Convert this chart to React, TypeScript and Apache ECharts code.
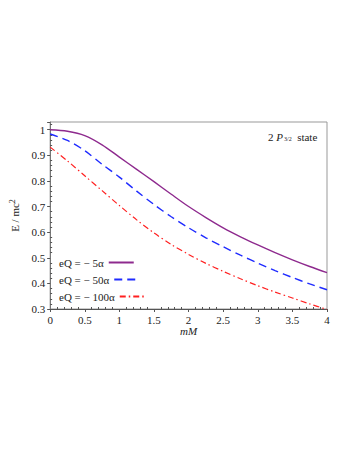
import React, { useEffect, useRef } from "react";
import * as echarts from "echarts";

const xs = [0, 0.25, 0.5, 0.75, 1, 1.25, 1.5, 1.75, 2, 2.25, 2.5, 2.75, 3, 3.25, 3.5, 3.75, 4];
const q5 = [1.0, 0.994, 0.977, 0.941, 0.893, 0.845, 0.797, 0.748, 0.7, 0.657, 0.617, 0.582, 0.55, 0.52, 0.492, 0.466, 0.442];
const q50 = [0.983, 0.958, 0.918, 0.865, 0.815, 0.76, 0.708, 0.66, 0.617, 0.578, 0.543, 0.51, 0.479, 0.45, 0.423, 0.398, 0.375];
const q100 = [0.932, 0.878, 0.82, 0.762, 0.704, 0.648, 0.597, 0.552, 0.513, 0.478, 0.447, 0.418, 0.391, 0.366, 0.343, 0.32, 0.298];
const seriesNames = ["eQ = \u2212 5\u03b1", "eQ = \u2212 50\u03b1", "eQ = \u2212 100\u03b1"];
const xTicks = [0, 0.5, 1, 1.5, 2, 2.5, 3, 3.5, 4];
const yTicks = [0.3, 0.4, 0.5, 0.6, 0.7, 0.8, 0.9, 1];

const FONT = "Liberation Serif";

export default function App() {
  const ref = useRef<HTMLDivElement>(null);
  useEffect(() => {
    if (!ref.current) return;
    const chart = echarts.init(ref.current, undefined, { renderer: "svg" });
    const pair = (ys: number[]) => xs.map((x, i) => [x, ys[i]]);
    const grid = { left: 48, right: 26, top: 122, bottom: 148 };
    const legendBase = (name: string, top: number) => ({
      data: [name],
      left: 54,
      top,
      align: "right",
      itemWidth: 25,
      itemHeight: 8,
      itemStyle: { color: "rgba(0,0,0,0)", borderColor: "rgba(0,0,0,0)", borderWidth: 0, opacity: 0 },
      textStyle: { fontFamily: FONT, fontSize: 11, color: "#222", width: 52 },
      selectedMode: false,
    });
    chart.setOption({
      animation: false,
      backgroundColor: "#fff",
      grid: { ...grid, show: true, borderColor: "#999", borderWidth: 1 },
      legend: [
        legendBase(seriesNames[0], 252),
        legendBase(seriesNames[1], 269),
        legendBase(seriesNames[2], 286),
      ],
      xAxis: [
        {
          type: "value",
          min: xTicks[0],
          max: xTicks[xTicks.length - 1],
          interval: 0.5,
          name: "mM",
          nameLocation: "middle",
          nameGap: 15,
          nameTextStyle: { fontFamily: FONT, fontSize: 11, fontStyle: "italic", color: "#222" },
          axisLine: { lineStyle: { color: "#555", width: 1 } },
          axisTick: { show: true, length: 3, lineStyle: { color: "#555" } },
          minorTick: { show: false },
          splitLine: { show: false },
          axisLabel: { fontFamily: FONT, fontSize: 11, color: "#222", margin: 5 },
        },
        {
          type: "value",
          min: xTicks[0],
          max: xTicks[xTicks.length - 1],
          interval: 0.5,
          position: "bottom",
          axisLine: { show: false },
          axisTick: { show: false, inside: true },
          minorTick: { show: true, splitNumber: 5, length: 2, lineStyle: { color: "#555" } },
          axisLabel: { show: false },
          splitLine: { show: false },
        },
      ],
      yAxis: [
        {
          type: "value",
          min: 0.3,
          max: 1.03,
          interval: 0.1,
          name: "E / mc{sup|2}",
          nameLocation: "middle",
          nameGap: 16,
          nameTextStyle: {
            fontFamily: FONT,
            fontSize: 11,
            color: "#222",
            rich: { sup: { fontFamily: FONT, fontSize: 8, verticalAlign: "top", padding: [0, 0, 6, 0] } },
          },
          axisLine: { lineStyle: { color: "#777", width: 1 } },
          axisTick: { show: true, length: 3, lineStyle: { color: "#555" } },
          minorTick: { show: false },
          splitLine: { show: false },
          axisLabel: {
            fontFamily: FONT,
            fontSize: 11,
            color: "#222",
            margin: 5,
            formatter: (v: number) => {
              const t = yTicks.find((k) => Math.abs(k - v) < 1e-6);
              return t === undefined ? "" : String(t);
            },
          },
        },
        {
          type: "value",
          min: 0.3,
          max: 1.03,
          interval: 0.1,
          position: "left",
          axisLine: { show: false },
          axisTick: { show: false, inside: true },
          minorTick: { show: true, splitNumber: 5, length: 2, lineStyle: { color: "#555" } },
          axisLabel: { show: false },
          splitLine: { show: false },
        },
      ],
      graphic: [
        {
          type: "text",
          left: 268,
          top: 131,
          style: {
            text: "2 {i|P}{s|3/2}  state",
            fontFamily: FONT,
            fontSize: 11,
            fill: "#222",
            rich: {
              i: { fontFamily: FONT, fontSize: 11, fontStyle: "italic", fill: "#222" },
              s: { fontFamily: FONT, fontSize: 6, fill: "#222", padding: [4, 0, 0, 1] },
            },
          },
        },
      ],
      series: [
        {
          name: seriesNames[0],
          type: "line",
          data: pair(q5),
          smooth: 0.3,
          symbol: "none",
          color: "#8e2a8e",
          lineStyle: { color: "#8e2a8e", width: 1.4, type: "solid" },
        },
        {
          name: seriesNames[1],
          type: "line",
          data: pair(q50),
          smooth: 0.3,
          symbol: "none",
          color: "#1f2bff",
          lineStyle: { color: "#1f2bff", width: 1.4, type: [8, 5] },
        },
        {
          name: seriesNames[2],
          type: "line",
          data: pair(q100),
          smooth: 0.3,
          symbol: "none",
          color: "#ff2020",
          lineStyle: { color: "#ff2020", width: 1.2, type: [6, 3, 1.5, 3] },
        },
      ],
    });
    return () => chart.dispose();
  }, []);
  return (
    <div
      ref={ref}
      style={{ position: "fixed", left: 0, top: 0, width: 353, height: 457, background: "#fff" }}
    />
  );
}
